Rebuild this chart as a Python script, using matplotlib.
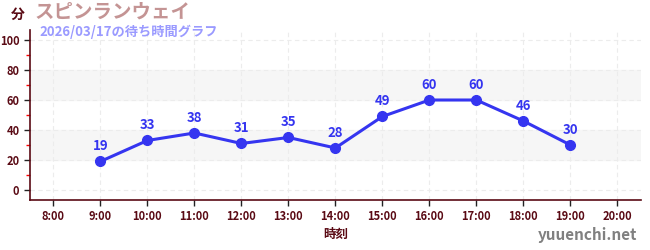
import matplotlib
matplotlib.use('Agg')
import matplotlib.pyplot as plt
from matplotlib.ticker import MultipleLocator

plt.rcParams['font.family'] = ['Noto Sans CJK JP', 'DejaVu Sans']

# データ
hours = [9, 10, 11, 12, 13, 14, 15, 16, 17, 18, 19]
waits = [19, 33, 38, 31, 35, 28, 49, 60, 60, 46, 30]
tick_hours = list(range(8, 21))
tick_labels = [f'{h}:00' for h in tick_hours]
title = 'スピンランウェイ'
subtitle = '2026/03/17の待ち時間グラフ'

dark = '#5a0a14'
blue = '#3535f0'

fig = plt.figure(figsize=(6.5, 2.5), dpi=100)
ax = fig.add_axes([0.046, 0.2, 0.94, 0.68])

# 背景の帯
for lo, hi in [(20, 40), (60, 80)]:
    ax.axhspan(lo, hi, color='#f6f6f6', zorder=0)

ax.plot(hours, waits, color=blue, lw=2.2, marker='o', ms=7, zorder=3)
for h, w in zip(hours, waits):
    ax.annotate(str(w), (h, w), xytext=(0, 6), textcoords='offset points',
                ha='center', va='bottom', color=blue, fontsize=9.5, fontweight='bold')

ax.set_xlim(7.5, 20.5)
ax.set_ylim(-6.7, 106.7)
ax.set_xticks(tick_hours)
ax.set_xticklabels(tick_labels)
ax.set_yticks(range(0, 101, 20))
ax.yaxis.set_minor_locator(MultipleLocator(10))

ax.grid(True, which='major', color='#ececec', ls=(0, (4, 3)), lw=0.8)
ax.set_axisbelow(True)

for s in ['top', 'right']:
    ax.spines[s].set_visible(False)
for s in ['left', 'bottom']:
    ax.spines[s].set_color(dark)
    ax.spines[s].set_linewidth(1.2)

ax.tick_params(axis='both', which='major', colors='#222222', labelcolor=dark,
               labelsize=8, length=4, width=1)
ax.tick_params(axis='y', which='minor', colors='red', length=3, width=1)
for lab in ax.get_xticklabels() + ax.get_yticklabels():
    lab.set_fontweight('bold')

ax.set_xlabel('時刻', color=dark, fontsize=9, fontweight='bold', labelpad=3)

fig.text(0.028, 0.94, '分', color=dark, fontsize=10, fontweight='bold', ha='center', va='center')
fig.text(0.053, 0.95, title, color='#c49494', fontsize=14, fontweight='bold', va='center')
fig.text(0.061, 0.872, subtitle, color='#9a9aff', fontsize=9.5, fontweight='bold', va='center')
fig.text(0.98, 0.06, 'yuuenchi.net', color='#808080', fontsize=11, fontweight='bold', ha='right', va='center')

fig.savefig('out.png', dpi=100)
